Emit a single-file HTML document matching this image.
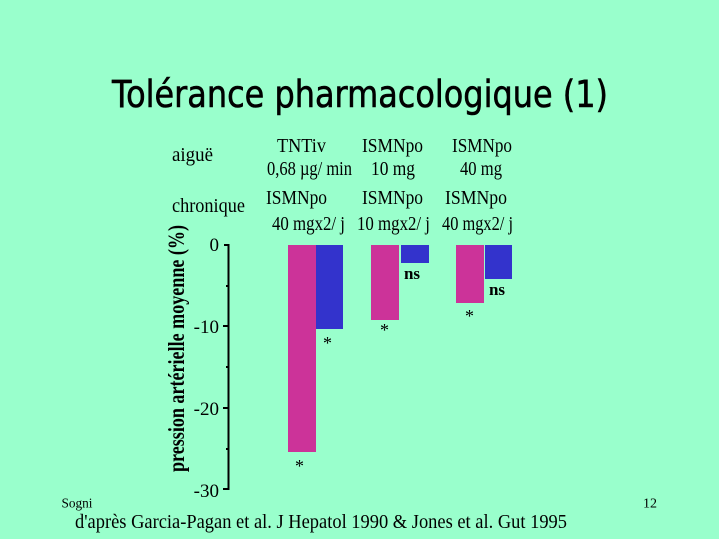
<!DOCTYPE html>
<html><head><meta charset="utf-8">
<style>
html,body{margin:0;padding:0;background:#99FFCC;}
svg{display:block;}
.s{font-family:"Liberation Serif",serif;fill:#000;}
</style></head>
<body>
<svg width="719" height="539" viewBox="0 0 719 539" xmlns="http://www.w3.org/2000/svg">
<rect width="719" height="539" fill="#99FFCC"/>
<text x="112" y="107" font-family="DejaVu Sans, Liberation Sans, sans-serif" font-size="37" textLength="496" lengthAdjust="spacingAndGlyphs" fill="#000" stroke="#000" stroke-width="0.6">Tolérance pharmacologique (1)</text>

<g class="s" font-size="19.5">
<text x="172" y="161" textLength="41" lengthAdjust="spacingAndGlyphs">aiguë</text>
<text x="277" y="152" textLength="49" lengthAdjust="spacingAndGlyphs">TNTiv</text>
<text x="362" y="152" textLength="61" lengthAdjust="spacingAndGlyphs">ISMNpo</text>
<text x="452" y="152" textLength="60" lengthAdjust="spacingAndGlyphs">ISMNpo</text>
<text x="267" y="175" textLength="85" lengthAdjust="spacingAndGlyphs">0,68 µg/ min</text>
<text x="371" y="175" textLength="44" lengthAdjust="spacingAndGlyphs">10 mg</text>
<text x="460" y="175" textLength="42" lengthAdjust="spacingAndGlyphs">40 mg</text>
<text x="172" y="212" textLength="73" lengthAdjust="spacingAndGlyphs">chronique</text>
<text x="266" y="204" textLength="61" lengthAdjust="spacingAndGlyphs">ISMNpo</text>
<text x="362" y="204" textLength="61" lengthAdjust="spacingAndGlyphs">ISMNpo</text>
<text x="445" y="204" textLength="62" lengthAdjust="spacingAndGlyphs">ISMNpo</text>
<text x="272" y="230" textLength="73" lengthAdjust="spacingAndGlyphs">40 mgx2/ j</text>
<text x="357" y="230" textLength="73" lengthAdjust="spacingAndGlyphs">10 mgx2/ j</text>
<text x="442" y="230" textLength="71" lengthAdjust="spacingAndGlyphs">40 mgx2/ j</text>
</g>

<!-- y axis title -->
<text class="s" transform="translate(184,472) rotate(-90)" font-size="23" font-weight="bold" textLength="247" lengthAdjust="spacingAndGlyphs">pression artérielle moyenne (%)</text>

<!-- axis -->
<g stroke="#000" stroke-width="2" fill="none">
<line x1="228.5" y1="244" x2="228.5" y2="490"/>
<line x1="224" y1="245" x2="229" y2="245"/>
<line x1="223" y1="326" x2="229" y2="326"/>
<line x1="223" y1="408" x2="229" y2="408"/>
<line x1="223" y1="489" x2="229" y2="489"/>
<line x1="226" y1="286" x2="229" y2="286"/>
<line x1="226" y1="367" x2="229" y2="367"/>
<line x1="226" y1="449" x2="229" y2="449"/>
</g>
<g class="s" font-size="19" text-anchor="end">
<text x="219" y="251">0</text>
<text x="219" y="333">-10</text>
<text x="219" y="415">-20</text>
<text x="219" y="497">-30</text>
</g>

<!-- bars -->
<rect x="288" y="245" width="28" height="207" fill="#CC3399"/>
<rect x="316" y="245" width="27" height="84" fill="#3333CC"/>
<rect x="371" y="245" width="28" height="75" fill="#CC3399"/>
<rect x="401" y="245" width="28" height="18" fill="#3333CC"/>
<rect x="456" y="245" width="28" height="58" fill="#CC3399"/>
<rect x="485" y="245" width="27" height="34" fill="#3333CC"/>

<g class="s" font-size="18" text-anchor="middle">
<text x="299.5" y="472">*</text>
<text x="327.5" y="349">*</text>
<text x="384.5" y="336">*</text>
<text x="469.5" y="322">*</text>
</g>
<g class="s" font-size="17" font-weight="bold" text-anchor="middle">
<text x="412" y="279">ns</text>
<text x="497" y="295">ns</text>
</g>

<!-- footer -->
<text class="s" x="61.5" y="507.5" font-size="14" textLength="31" lengthAdjust="spacingAndGlyphs">Sogni</text>
<text class="s" x="643" y="507.5" font-size="14" textLength="14" lengthAdjust="spacingAndGlyphs">12</text>
<text class="s" x="75" y="528" font-size="19.5" textLength="492" lengthAdjust="spacingAndGlyphs">d'après Garcia-Pagan et al. J Hepatol 1990 &amp; Jones et al. Gut 1995</text>
</svg>
</body></html>
